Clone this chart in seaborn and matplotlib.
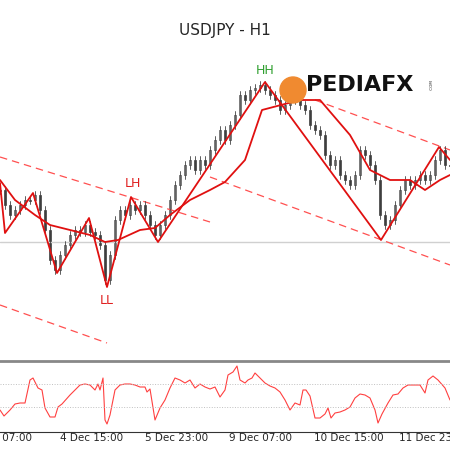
import matplotlib
matplotlib.use("Agg")
import matplotlib.pyplot as plt
import seaborn as sns
import numpy as np
from matplotlib.patches import Circle

sns.set_style("white")
plt.rcParams['font.family'] = ['Tahoma', 'DejaVu Sans']

# price series (chart units, larger = lower on screen), one bar per 5 units of x
closes = [190,205,215,210,205,200,200,195,210,230,260,270,255,245,235,230,232,225,232,235,
          245,280,255,220,210,215,205,210,205,215,225,235,225,215,200,185,175,165,160,170,
          160,165,150,140,130,140,125,115,95,100,90,88,85,90,95,100,110,105,100,95,
          105,110,125,130,135,155,165,160,175,180,185,175,150,155,165,180,215,225,220,205,
          190,180,185,180,175,180,175,160,150,165,165]
zz_x = [0,5,33,57,89,107,131,158,265,381,439,450]
zz_y = [183,233,193,273,218,287,197,242,82,240,147,160]
ma_x = [0,15,35,50,70,90,105,118,140,155,170,190,210,225,245,262,300,320,350,370,390,410,425,440,450]
ma_y = [180,200,215,225,230,235,242,240,230,228,215,200,190,182,160,110,100,100,135,170,180,180,190,180,175]
osc_x = [0,4,10,15,20,25,30,33,38,42,45,50,55,58,62,70,75,80,85,90,95,98,100,103,105,107,110,115,120,125,
         130,135,140,145,147,150,155,160,165,170,175,180,185,190,195,200,205,210,215,220,225,228,233,237,240,
         245,248,252,255,260,265,270,275,280,285,290,295,300,303,306,310,315,320,325,328,331,335,340,345,350,
         355,360,365,370,375,378,382,388,393,398,403,408,413,420,425,428,433,438,445,450]
osc_y = [410,416,410,404,403,403,380,378,388,390,408,417,417,407,404,395,390,385,384,385,390,384,390,378,420,
         424,415,390,385,384,384,385,387,387,392,389,420,408,400,388,378,380,383,380,388,384,387,389,387,397,
         390,375,372,366,380,383,380,378,373,378,383,386,388,392,400,410,403,405,390,390,396,418,418,414,408,
         418,413,412,410,407,398,394,395,398,410,423,414,403,395,394,388,385,385,385,393,380,376,380,388,400]
tick_pos = [-31,60,145,229,314,399]
tick_labels = ["3 Dec 07:00","4 Dec 15:00","5 Dec 23:00","9 Dec 07:00","10 Dec 15:00","11 Dec 23:00"]

fig = plt.figure(figsize=(4.5,4.5), dpi=100)
ax = fig.add_axes([0, 95/450, 1, 355/450])

ax.axhline(242, color='#d0d0d0', lw=1)
for (x0,y0,x1,y1) in [(0,157,210,222),(315,100,450,150),(0,305,107,343),(210,177,450,265)]:
    ax.plot([x0,x1],[y0,y1], color='#ff5050', lw=0.9, dashes=(6,4))

opens = [closes[0]] + closes[:-1]
for i,(o,c) in enumerate(zip(opens,closes)):
    x = i*5
    ax.plot([x,x],[min(o,c)-4,max(o,c)+4], color='#444', lw=0.6)
    col = 'white' if c < o else '#222'
    h = max(abs(c-o),1)
    ax.add_patch(plt.Rectangle((x-1.3,min(o,c)),2.6,h, facecolor=col, edgecolor='#444', lw=0.5))

sns.lineplot(x=ma_x, y=ma_y, ax=ax, color='#e01010', lw=1.3, sort=False)
sns.lineplot(x=zz_x, y=zz_y, ax=ax, color='#e01010', lw=1.3, sort=False)
ax.set_xlim(0,450); ax.set_ylim(355,0); ax.axis('off')

ax.text(133,190,"LH", color='#e02020', fontsize=9, ha='center', va='bottom')
ax.text(107,300,"LL", color='#e02020', fontsize=9, ha='center', va='center')
ax.text(265,71,"HH", color='#30a030', fontsize=9, ha='center', va='center')
ax.text(225,30,"USDJPY - H1", fontsize=11, ha='center', va='center')
ax.add_patch(Circle((293,90),13, color='#f08a30', zorder=5))
ax.text(306,85,"PEDIAFX", fontsize=16, fontweight='bold', color='#111', ha='left', va='center', zorder=6)
ax.text(432,85,".COM", fontsize=3, rotation=90, ha='center', va='center')

ax2 = fig.add_axes([0, 18/450, 1, 71/450])
sns.lineplot(x=osc_x, y=osc_y, ax=ax2, color='#ff4040', lw=0.8, sort=False)
for yy in [384,407]:
    ax2.axhline(yy, color='#c0c0c0', lw=0.7, ls=':')
ax2.set_yticks([]); ax2.set_xlabel(''); ax2.set_ylabel('')
for s in ['left','right']: ax2.spines[s].set_visible(False)
ax2.spines['top'].set_color('#888'); ax2.spines['top'].set_linewidth(2)
ax2.spines['bottom'].set_color('#333')
ax2.set_xticks(tick_pos); ax2.set_xticklabels([])
ax2.tick_params(axis='x', length=3, color='#333')
ax2.set_xlim(0,450); ax2.set_ylim(432,361)
for p,l in zip(tick_pos,tick_labels):
    ax2.text(p,438,l, fontsize=7.5, ha='left', va='center', clip_on=False)
fig.savefig("out.png", dpi=100)
